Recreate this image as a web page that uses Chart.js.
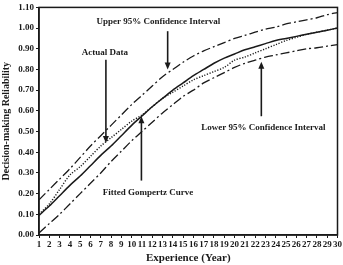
<!DOCTYPE html>
<html>
<head>
<meta charset="utf-8">
<script src="https://cdn.jsdelivr.net/npm/chart.js@4/dist/chart.umd.min.js"></script>
<style>
  html, body { margin: 0; padding: 0; background: #fff; }
  #wrap { width: 343px; height: 265px; }
</style>
</head>
<body>
<div id="wrap"><canvas id="chart"></canvas></div>
<script>
'use strict';

// ─── Data ────────────────────────────────────────────────────────────────────

const YEARS = [1, 2, 3, 4, 5, 6, 7, 8, 9, 10, 11, 12, 13, 14, 15,
               16, 17, 18, 19, 20, 21, 22, 23, 24, 25, 26, 27, 28, 29, 30];

const UPPER_CI = [0.17, 0.22, 0.27, 0.32, 0.375, 0.43, 0.48, 0.53, 0.58, 0.63,
                  0.675, 0.72, 0.765, 0.80, 0.835, 0.865, 0.89, 0.91, 0.93, 0.95,
                  0.965, 0.98, 0.995, 1.005, 1.02, 1.03, 1.04, 1.05, 1.065, 1.075];

const FITTED = [0.095, 0.14, 0.19, 0.24, 0.285, 0.335, 0.385, 0.43, 0.48, 0.53,
                0.575, 0.62, 0.66, 0.70, 0.735, 0.77, 0.80, 0.83, 0.855, 0.875,
                0.895, 0.91, 0.925, 0.94, 0.95, 0.96, 0.97, 0.98, 0.99, 1.0];

const ACTUAL = [0.10, 0.15, 0.22, 0.29, 0.33, 0.38, 0.43, 0.47, 0.51, 0.55,
                0.58, 0.62, 0.66, 0.69, 0.72, 0.75, 0.77, 0.79, 0.81, 0.845,
                0.86, 0.88, 0.90, 0.92, 0.94, 0.955, 0.97, 0.98, 0.99, 1.0];

const LOWER_CI = [0.01, 0.055, 0.10, 0.15, 0.20, 0.25, 0.30, 0.355, 0.405, 0.455,
                  0.50, 0.545, 0.59, 0.63, 0.67, 0.70, 0.735, 0.76, 0.785, 0.81,
                  0.83, 0.845, 0.86, 0.87, 0.88, 0.89, 0.90, 0.905, 0.913, 0.92];

// Callout labels (text position and arrow, in data units)
const NOTES = [
  { text: 'Upper 95% Confidence Interval', x: 12.6, y: 1.03,  ax: 13.5, from: 0.985, to: 0.80 },
  { text: 'Actual Data',                   x: 7.4,  y: 0.88,  ax: 7.5,  from: 0.847, to: 0.445 },
  { text: 'Fitted Gompertz Curve',         x: 11.6, y: 0.206, ax: 10.95, from: 0.263, to: 0.574 },
  { text: 'Lower 95% Confidence Interval', x: 22.8, y: 0.52,  ax: 22.6, from: 0.574, to: 0.837 },
];

// ─── Styling ─────────────────────────────────────────────────────────────────

const INK   = '#1a1a1a';
const SERIF = '"Liberation Serif", "Times New Roman", serif';

const pts = arr => arr.map((v, i) => ({ x: YEARS[i], y: v }));

// Frame + callouts drawn on top of the chart area
const notesPlugin = {
  id: 'notes',
  afterDraw(chart) {
    const { ctx, chartArea: a, scales: { x, y } } = chart;
    ctx.save();
    ctx.strokeStyle = INK;
    ctx.lineWidth = 1.5;
    ctx.strokeRect(a.left, a.top, a.right - a.left, a.bottom - a.top);

    ctx.fillStyle = INK;
    ctx.font = `bold 9px ${SERIF}`;
    ctx.textAlign = 'center';
    ctx.textBaseline = 'middle';
    NOTES.forEach(n => {
      ctx.fillText(n.text, x.getPixelForValue(n.x), y.getPixelForValue(n.y));
      const px = x.getPixelForValue(n.ax);
      const y0 = y.getPixelForValue(n.from);
      const y1 = y.getPixelForValue(n.to);
      const dir = y1 > y0 ? 1 : -1;
      ctx.lineWidth = 1.6;
      ctx.beginPath();
      ctx.moveTo(px, y0);
      ctx.lineTo(px, y1 - dir * 5);
      ctx.stroke();
      ctx.beginPath();
      ctx.moveTo(px, y1);
      ctx.lineTo(px - 3, y1 - dir * 7);
      ctx.lineTo(px + 3, y1 - dir * 7);
      ctx.closePath();
      ctx.fill();
    });
    ctx.restore();
  },
};

// ─── Chart ───────────────────────────────────────────────────────────────────

const tickFont  = { family: SERIF, size: 9, weight: 'bold' };
const titleFont = { family: SERIF, size: 11, weight: 'bold' };

new Chart(document.getElementById('chart'), {
  type: 'line',
  data: {
    datasets: [
      { label: 'Upper 95% Confidence Interval', data: pts(UPPER_CI),
        borderColor: INK, borderWidth: 1.3, borderDash: [9, 3, 2, 3] },
      { label: 'Fitted Gompertz Curve', data: pts(FITTED),
        borderColor: INK, borderWidth: 1.5 },
      { label: 'Actual Data', data: pts(ACTUAL),
        borderColor: INK, borderWidth: 1.4, borderDash: [1.2, 1.6] },
      { label: 'Lower 95% Confidence Interval', data: pts(LOWER_CI),
        borderColor: INK, borderWidth: 1.3, borderDash: [9, 3, 2, 3] },
    ],
  },
  options: {
    responsive: true,
    maintainAspectRatio: false,
    animation: false,
    layout: { padding: { top: 1, right: 1, left: 0, bottom: 0 } },
    elements: { point: { radius: 0 }, line: { tension: 0.3 } },
    plugins: { legend: { display: false }, tooltip: { enabled: false } },
    scales: {
      x: {
        type: 'linear',
        min: 1,
        max: 30,
        afterFit: s => { s.height = 30; },
        border: { display: true, color: INK, width: 1.5 },
        grid: { drawOnChartArea: false, color: INK, tickLength: 3, lineWidth: 1 },
        ticks: { stepSize: 1, autoSkip: false, maxRotation: 0, padding: 1,
                 color: INK, font: tickFont },
        title: { display: true, text: 'Experience (Year)', color: INK,
                 font: titleFont, padding: { top: 0, bottom: 0 } },
      },
      y: {
        min: 0,
        max: 1.1,
        afterFit: s => { s.width = 39; },
        border: { display: true, color: INK, width: 1.5 },
        grid: { drawOnChartArea: false, color: INK, tickLength: 3, lineWidth: 1 },
        ticks: { stepSize: 0.1, padding: 2, color: INK, font: tickFont,
                 callback: v => v.toFixed(2) },
        title: { display: true, text: 'Decision-making Reliability', color: INK,
                 font: { family: SERIF, size: 10, weight: 'bold' }, padding: { top: 0, bottom: 1 } },
      },
    },
  },
  plugins: [notesPlugin],
});
</script>
</body>
</html>
